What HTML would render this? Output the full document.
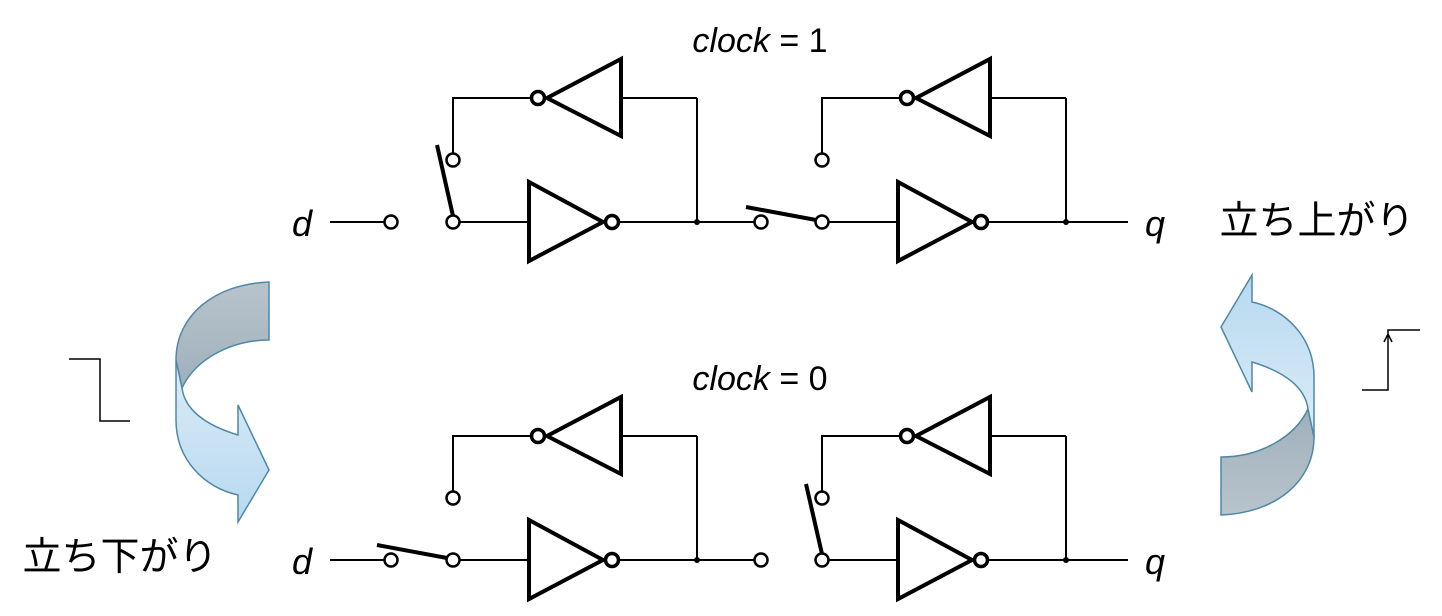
<!DOCTYPE html>
<html><head><meta charset="utf-8"><style>
html,body{margin:0;padding:0;background:#fff;}
svg{display:block;font-family:"Liberation Sans","Noto Sans CJK JP",sans-serif;}
</style></head><body>
<svg width="1442" height="616" viewBox="0 0 1442 616">
<defs>
<linearGradient id="gb" x1="0" y1="0" x2="0" y2="1"><stop offset="0" stop-color="#dcecf7"/><stop offset="1" stop-color="#b6d9f0"/></linearGradient>
<linearGradient id="gg" x1="0" y1="0" x2="0" y2="1"><stop offset="0" stop-color="#b8c4cc"/><stop offset="1" stop-color="#9fb0bb"/></linearGradient>
<g id="latch" fill="none" stroke="#000">
 <line x1="459" y1="222" x2="528" y2="222" stroke-width="2"/>
 <polygon points="529,182 529,261 603,222" stroke-width="4"/>
 <circle cx="612" cy="222" r="6.5" stroke-width="3.5" fill="#fff"/>
 <line x1="619" y1="222" x2="697" y2="222" stroke-width="2"/>
 <line x1="697" y1="98" x2="697" y2="222" stroke-width="2"/>
 <circle cx="697" cy="222" r="3" fill="#000" stroke="none"/>
 <line x1="621" y1="98" x2="697" y2="98" stroke-width="2"/>
 <polygon points="621,59 621,136 547,98" stroke-width="4"/>
 <circle cx="538" cy="98" r="6.5" stroke-width="3.5" fill="#fff"/>
 <polyline points="531,98 453,98 453,153" stroke-width="2"/>
 <circle cx="453" cy="160" r="6.5" stroke-width="2.5" fill="#fff"/>
 <circle cx="453" cy="222" r="6.5" stroke-width="2.5" fill="#fff"/>
</g>
</defs>

<g>
 <text x="760" y="52" font-size="34" text-anchor="middle"><tspan font-style="italic">clock</tspan> = 1</text>
 <text x="302" y="236" font-size="36" font-style="italic" text-anchor="middle">d</text>
 <line x1="330" y1="222" x2="385" y2="222" stroke="#000" stroke-width="2"/>
 <circle cx="391" cy="222" r="6.5" fill="#fff" stroke="#000" stroke-width="2.5"/>
 <use href="#latch"/>
 <line x1="697" y1="222" x2="755" y2="222" stroke="#000" stroke-width="2"/>
 <circle cx="761" cy="222" r="6.5" fill="#fff" stroke="#000" stroke-width="2.5"/>
 <use href="#latch" x="369"/>
 <line x1="1066" y1="222" x2="1128" y2="222" stroke="#000" stroke-width="2"/>
 <text x="1155" y="236" font-size="36" font-style="italic" text-anchor="middle">q</text>
 <line x1="453" y1="216" x2="437" y2="145" stroke="#000" stroke-width="4"/>
 <line x1="746" y1="207" x2="816" y2="220" stroke="#000" stroke-width="4"/>
</g>

<g transform="translate(0,338)">
 <text x="760" y="52" font-size="34" text-anchor="middle"><tspan font-style="italic">clock</tspan> = 0</text>
 <text x="302" y="236" font-size="36" font-style="italic" text-anchor="middle">d</text>
 <line x1="330" y1="222" x2="385" y2="222" stroke="#000" stroke-width="2"/>
 <circle cx="391" cy="222" r="6.5" fill="#fff" stroke="#000" stroke-width="2.5"/>
 <use href="#latch"/>
 <line x1="697" y1="222" x2="755" y2="222" stroke="#000" stroke-width="2"/>
 <circle cx="761" cy="222" r="6.5" fill="#fff" stroke="#000" stroke-width="2.5"/>
 <use href="#latch" x="369"/>
 <line x1="1066" y1="222" x2="1128" y2="222" stroke="#000" stroke-width="2"/>
 <text x="1155" y="236" font-size="36" font-style="italic" text-anchor="middle">q</text>
 <line x1="377" y1="207" x2="447" y2="220" stroke="#000" stroke-width="4"/>
 <line x1="806" y1="146" x2="822" y2="216" stroke="#000" stroke-width="4"/>
</g>

<g stroke="#4f88a6" stroke-width="1.5">
 <path d="M269,282 C215,284 176,315 176,360 L182,388 C195,360 230,340 269,340 Z" fill="url(#gg)"/>
 <path d="M176,360 L176,420 C176,460 205,488 238,495 L238,522 L269,470 L238,405 L238,435 C205,425 185,410 182,388 Z" fill="url(#gb)"/>
</g>
<g transform="rotate(180 745 398.5)" stroke="#4f88a6" stroke-width="1.5">
 <path d="M269,282 C215,284 176,315 176,360 L182,388 C195,360 230,340 269,340 Z" fill="url(#gg)"/>
 <path d="M176,360 L176,420 C176,460 205,488 238,495 L238,522 L269,470 L238,405 L238,435 C205,425 185,410 182,388 Z" fill="url(#gb)"/>
</g>

<polyline points="69,359 100,359 100,421 130,421" fill="none" stroke="#000" stroke-width="1.5"/>
<g fill="none" stroke="#000" stroke-width="1.5">
 <polyline points="1362,390 1388,390 1388,330 1420,330"/>
 <polyline points="1384,342 1388,334 1392,342"/>
</g>

<text x="1317" y="234" font-size="39" text-anchor="middle">立ち上がり</text>
<text x="120" y="570" font-size="39" text-anchor="middle">立ち下がり</text>
</svg>
</body></html>
